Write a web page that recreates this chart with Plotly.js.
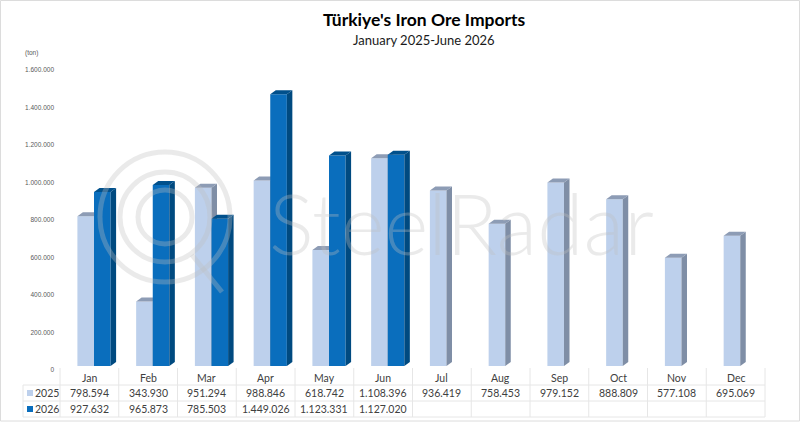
<!DOCTYPE html>
<html><head><meta charset="utf-8">
<script src="https://cdn.plot.ly/plotly-3.0.1.min.js"></script>
<style>html,body{margin:0;padding:0;background:#fff}#c{width:800px;height:423px}</style>
</head><body><div id="c"></div>
<script>
const months = ['Jan','Feb','Mar','Apr','May','Jun','Jul','Aug','Sep','Oct','Nov','Dec'];
const values2025 = [798594,343930,951294,988846,618742,1108396,936419,758453,979152,888809,577108,695069];
const values2026 = [927632,965873,785503,1449026,1123331,1127020];
const yTicks = [0,200000,400000,600000,800000,1000000,1200000,1400000,1600000];

const W=800,H=423;
const px=(x)=>x/W, py=(y)=>1-y/H;
const catW=58.75, barW=16.6/catW, dx=5.5/catW, dy=4/0.1875*1000;
const idx=months.map((_,i)=>i);
const fmt=v=>v===undefined?'':String(v).replace(/\B(?=(\d{3})+$)/g,'.');

function faces(vals,x0){
  const sx=[],sy=[],tx=[],ty=[];
  vals.forEach((v,i)=>{
    const l=i+x0,r=l+barW;
    sx.push(r,r+dx,r+dx,r,r,null); sy.push(0,dy,v+dy,v,0,null);
    tx.push(l,l+dx,r+dx,r,l,null); ty.push(v,v+dy,v+dy,v,v,null);
  });
  return {sx,sy,tx,ty};
}
function series(vals,name,x0,front,side,top,xa,ya){
  const f=faces(vals,x0);
  return [
    {type:'bar',name,x:idx.slice(0,vals.length),y:vals,width:barW,offset:x0,marker:{color:front,line:{width:0}},xaxis:xa,yaxis:ya,hoverinfo:'y'},
    {type:'scatter',mode:'lines',x:f.sx,y:f.sy,fill:'toself',fillcolor:side,line:{width:0,color:side},xaxis:xa,yaxis:ya,hoverinfo:'skip',showlegend:false},
    {type:'scatter',mode:'lines',x:f.tx,y:f.ty,fill:'toself',fillcolor:top,line:{width:0,color:top},xaxis:xa,yaxis:ya,hoverinfo:'skip',showlegend:false}
  ];
}
const font='Lato, "Open Sans", sans-serif';
const sans='"Liberation Sans",Arial,sans-serif';
const grid='#e6e6e6';
const wm='rgba(190,190,190,0.33)';
const colCenter=i=>i+(89.4-94)/catW;
const xr=[(60-94)/catW,(765-94)/catW];
const traces=[
  ...series(values2025,'2025',-barW,'#bdd0ec','#7f8ea6','#8d9cb5','x','y'),
  ...series(values2026,'2026',0,'#0a6ebd','#004a80','#00508c','x2','y2')
];
const circles=[[165,217,65],[165,217,45],[165,217,27]].map(([cx,cy,r])=>({
  type:'circle',xref:'paper',yref:'paper',layer:'above',
  x0:px(cx-r),x1:px(cx+r),y0:py(cy+r),y1:py(cy-r),
  line:{color:wm,width:5},fillcolor:'rgba(0,0,0,0)'}));
const line=(x0,y0,x1,y1,c,w)=>({type:'line',xref:'paper',yref:'paper',layer:'above',x0:px(x0),x1:px(x1),y0:py(y0),y1:py(y1),line:{color:c,width:w}});
const ann=(text,x,y,size,family,color,extra)=>({text,xref:'paper',yref:'paper',x:px(x),y:py(y),xanchor:'center',yanchor:'middle',showarrow:false,font:Object.assign({family,size,color},extra||{})});
const cellAnn=(text,i,y)=>({text,xref:'x',yref:'paper',x:colCenter(i),y:py(y),xanchor:'center',yanchor:'middle',showarrow:false,font:{family:font,size:10.5,color:'#404040'}});
const tableLines=[
  line(23,385,765,385,grid,1),line(23,401,765,401,grid,1),line(23,417,765,417,grid,1),line(23,385,23,417,grid,1),
  ...[0,1,2,3,4,5,6,7,8,9,10,11,12].map(k=>line(60+k*catW,368,60+k*catW,417,grid,1))
];
const layout={
  width:W,height:H,margin:{l:0,r:0,t:0,b:0},paper_bgcolor:'#fff',plot_bgcolor:'rgba(0,0,0,0)',
  separators:',.',showlegend:false,barmode:'overlay',
  font:{family:font,color:'#404040'},
  xaxis:{domain:[px(60),px(765)],range:xr,visible:false,fixedrange:true},
  xaxis2:{overlaying:'x',matches:'x',visible:false},
  yaxis:{domain:[py(366),py(66)],range:[0,1600000],tickvals:yTicks,tickformat:',d',showgrid:false,zeroline:false,showline:false,ticks:'',
    tickfont:{family:sans,size:6.5,color:'#595959'},ticklabelshift:4,ticklabelstandoff:5,automargin:false},
  yaxis2:{overlaying:'y',matches:'y',visible:false},
  annotations:[
    ann("<b>Türkiye's Iron Ore Imports</b>",424,20,17.5,font,'#000'),
    ann('January 2025-June 2026',424,40,13,font,'#1a1a1a'),
    ann('(ton)',31,53,6.5,sans,'#595959'),
    ann('SteelRadar',461,222,84,font,wm,{weight:300}),
    ann('2025',47,393,10.5,font,'#404040'),
    ann('2026',47,409,10.5,font,'#404040'),
    ...months.map((m,i)=>cellAnn(m,i,378)),
    ...months.map((m,i)=>cellAnn(fmt(values2025[i]),i,393)),
    ...months.map((m,i)=>cellAnn(fmt(values2026[i]),i,409)).filter(a=>a.text!=='')
  ],
  shapes:[
    ...circles,
    line(192,255,222,292,wm,5),
    {type:'rect',xref:'paper',yref:'paper',x0:px(0.5),x1:px(799.5),y0:py(421),y1:py(0.5),line:{color:'#dcdcdc',width:1},layer:'below'},
    ...tableLines,
    {type:'rect',xref:'paper',yref:'paper',x0:px(27),x1:px(33),y0:py(396),y1:py(390),fillcolor:'#bdd0ec',line:{width:0},layer:'above'},
    {type:'rect',xref:'paper',yref:'paper',x0:px(27),x1:px(33),y0:py(412),y1:py(406),fillcolor:'#0a6ebd',line:{width:0},layer:'above'}
  ]
};
Plotly.newPlot('c',traces,layout,{displayModeBar:false,staticPlot:true});
</script></body></html>
